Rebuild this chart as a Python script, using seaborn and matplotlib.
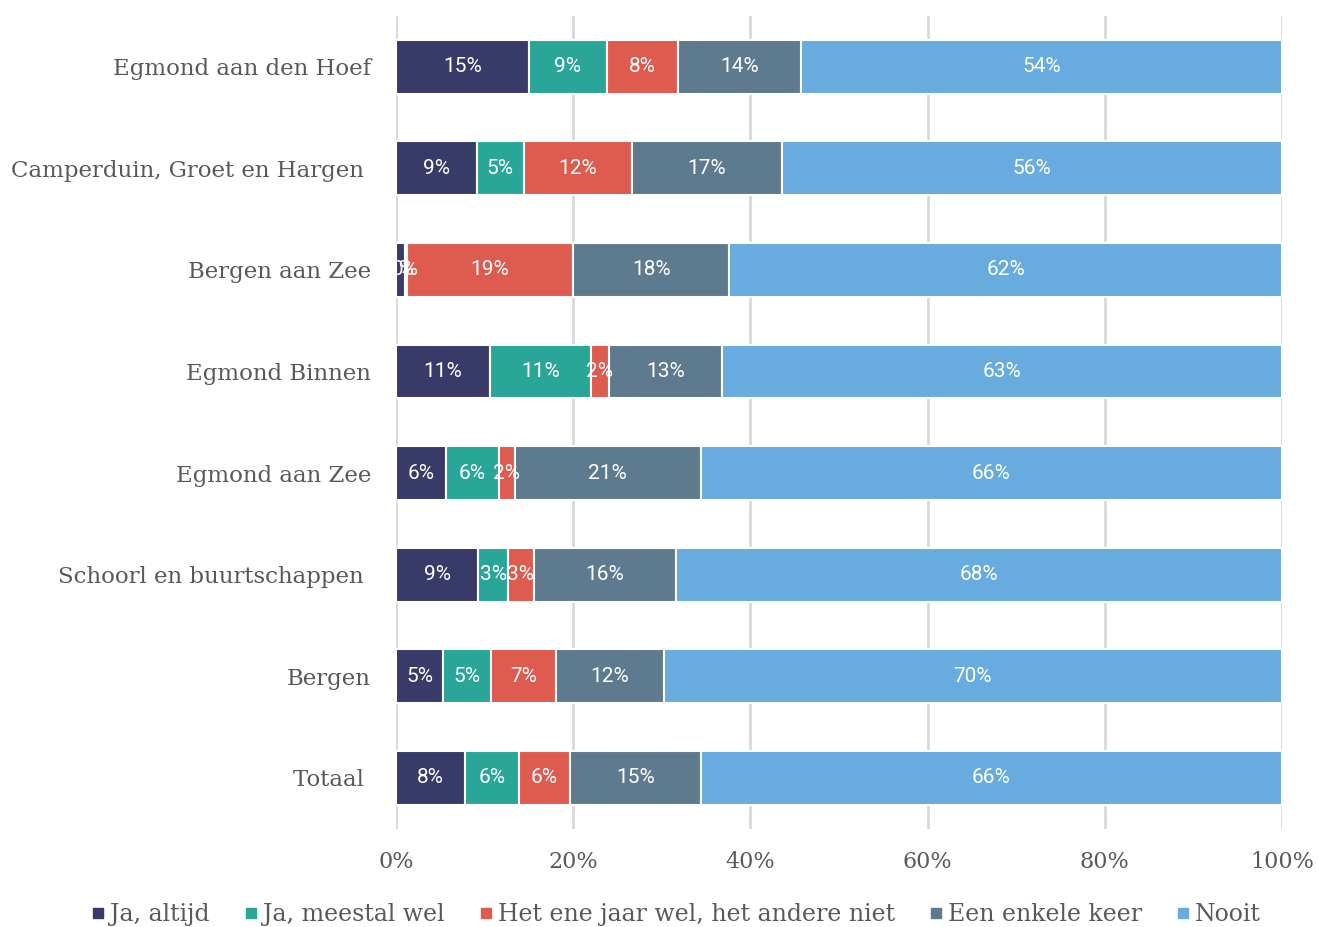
import seaborn as sns
import matplotlib.pyplot as plt
from matplotlib.lines import Line2D
import pandas as pd

sns.set_theme(style="white")
plt.rcParams["font.family"] = ["DejaVu Serif"]

kernen = ["Egmond aan den Hoef", "Camperduin, Groet en Hargen ", "Bergen aan Zee",
          "Egmond Binnen", "Egmond aan Zee", "Schoorl en buurtschappen ", "Bergen", "Totaal "]
series = ["Ja, altijd", "Ja, meestal wel", "Het ene jaar wel, het andere niet",
          "Een enkele keer", "Nooit"]
ja_altijd = [15.0, 9.1, 1.0, 10.6, 5.6, 9.3, 5.3, 7.8]
ja_meestal = [8.8, 5.3, 0.2, 11.4, 6.0, 3.3, 5.4, 6.1]
wisselend = [8.0, 12.2, 18.8, 2.0, 1.8, 3.0, 7.3, 5.7]
enkele_keer = [13.9, 17.0, 17.6, 12.8, 21.0, 16.0, 12.2, 14.8]
nooit = [54.3, 56.4, 62.4, 63.2, 65.6, 68.4, 69.8, 65.6]
colors = ["#383a67", "#2aa699", "#de5b50", "#5e7a8e", "#67abdf"]

df = pd.DataFrame({"kern": kernen}).set_index("kern")
for name, vals in zip(series, [ja_altijd, ja_meestal, wisselend, enkele_keer, nooit]):
    df[name] = vals

fig, ax = plt.subplots(figsize=(13.18, 9.27), dpi=100)
fig.subplots_adjust(left=0.3005, right=0.9727, top=0.983, bottom=0.106)

left = pd.Series(0.0, index=df.index)
for name, col in zip(series, colors):
    sns.barplot(x=df[name].values, y=df.index, color=col, saturation=1,
                width=0.53, left=left.values, edgecolor="white", linewidth=1.5,
                ax=ax)
    ax.bar_label(ax.containers[-1], labels=[f"{v:.0f}%" for v in df[name]],
                 label_type="center", color="white", fontsize=15,
                 family=["Roboto", "DejaVu Sans"])
    left = left + df[name]

ax.set_xlim(0, 100)
ax.set_ylim(7.5, -0.5)
ax.set_xticks(range(0, 101, 20))
ax.set_xticklabels([f"{t}%" for t in range(0, 101, 20)])
ax.xaxis.grid(True, color="#d9d9d9", linewidth=2)
ax.set_axisbelow(True)
sns.despine(ax=ax, left=True, bottom=True)
ax.tick_params(axis="x", length=0, pad=16, labelsize=16, labelcolor="#595959")
ax.tick_params(axis="y", length=0, pad=18, labelsize=16.5, labelcolor="#595959")
ax.set_xlabel("")
ax.set_ylabel("")

handles = [Line2D([], [], marker="s", linestyle="", color=c, markersize=7) for c in colors]
fig.legend(handles, series, loc="lower center", bbox_to_anchor=(0.512, -0.022), ncol=5,
           frameon=False, fontsize=17, handletextpad=0.1, columnspacing=1.35,
           labelcolor="#595959", handlelength=0.8)

fig.savefig("out.png", dpi=100)
